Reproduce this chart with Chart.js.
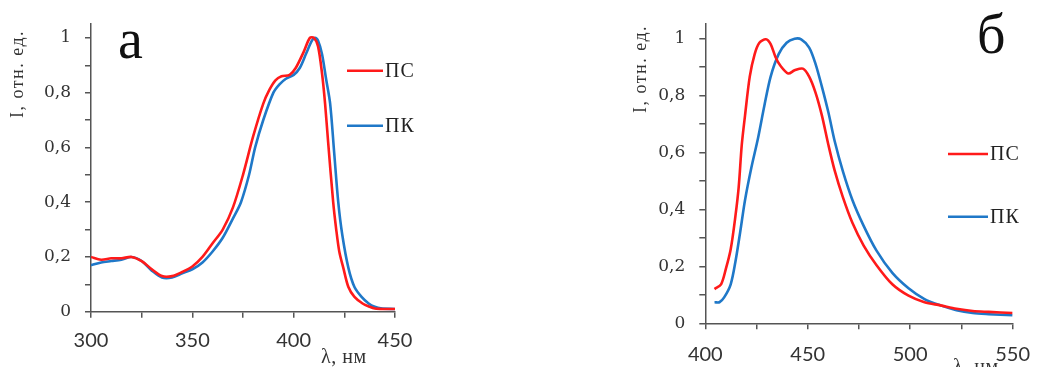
<!DOCTYPE html>
<html>
<head>
<meta charset="utf-8">
<script src="https://cdn.jsdelivr.net/npm/chart.js@4.4.1/dist/chart.umd.min.js"></script>
<style>
  body { margin: 0; background: #fff; }
  #wrap { position: relative; width: 1043px; height: 367px; overflow: hidden; }
  canvas { position: absolute; top: 0; }
</style>
</head>
<body>
<div id="wrap">
  <canvas id="chartA" width="430" height="367" style="left:0"></canvas>
  <canvas id="chartB" width="443" height="367" style="left:600px"></canvas>
</div>
<script>
// panel а: absorption
const absWlPS = [300, 305, 310, 315, 320, 325, 330, 335, 340, 345, 350, 355, 360, 365, 370, 375, 380, 385, 388, 391, 394, 398, 401, 405, 408, 410, 412, 414, 415.5, 417, 419.5, 421, 422.5, 424.5, 427, 430, 434, 437.5, 440, 445, 450];
const absPS   = [0.20, 0.19, 0.195, 0.195, 0.20, 0.185, 0.155, 0.13, 0.13, 0.145, 0.165, 0.20, 0.25, 0.30, 0.38, 0.50, 0.64, 0.76, 0.81, 0.845, 0.86, 0.865, 0.89, 0.95, 1.0, 1.0, 0.97, 0.87, 0.76, 0.62, 0.40, 0.30, 0.22, 0.16, 0.09, 0.054, 0.03, 0.018, 0.012, 0.01, 0.01];
const absWlPK = [300, 305, 310, 315, 320, 325, 330, 335, 340, 345, 350, 355, 360, 365, 370, 374, 378, 381, 385, 390, 393, 396, 400, 403, 406, 409, 410.5, 412, 414, 416, 418, 420, 422, 424, 427, 430, 433.5, 437, 440, 443, 450];
const absPK   = [0.17, 0.18, 0.185, 0.19, 0.20, 0.185, 0.15, 0.125, 0.125, 0.14, 0.155, 0.18, 0.22, 0.27, 0.34, 0.40, 0.50, 0.60, 0.70, 0.80, 0.83, 0.85, 0.865, 0.89, 0.94, 0.99, 1.0, 0.99, 0.94, 0.85, 0.76, 0.58, 0.40, 0.28, 0.16, 0.09, 0.054, 0.03, 0.018, 0.012, 0.01];

// panel б: emission
const emWlPS = [404.5, 407.7, 410, 412.4, 414.7, 416.3, 417.8, 419.4, 421.7, 424.1, 426.4, 429.6, 431.9, 434.3, 436.6, 440.5, 443.6, 447.6, 450.7, 453.8, 456.9, 460.1, 463.2, 467.1, 471.8, 477.3, 483.5, 491.3, 499.2, 507, 514.8, 522.6, 530.5, 538.3, 550];
const emPS   = [0.12, 0.137, 0.19, 0.26, 0.376, 0.478, 0.626, 0.73, 0.866, 0.945, 0.985, 0.997, 0.98, 0.934, 0.905, 0.877, 0.888, 0.894, 0.866, 0.81, 0.73, 0.626, 0.535, 0.444, 0.353, 0.273, 0.205, 0.137, 0.097, 0.074, 0.063, 0.051, 0.043, 0.04, 0.036];
const emWlPK = [404.5, 406.9, 409.2, 412.4, 414.7, 417, 419.4, 422.5, 425.7, 428.8, 431.9, 435.8, 439.7, 443.6, 446.8, 450.7, 453.8, 456.9, 460.1, 463.2, 467.1, 471.8, 477.3, 483.5, 491.3, 499.2, 507, 514.8, 522.6, 530.5, 538.3, 550];
const emPK   = [0.074, 0.074, 0.091, 0.137, 0.216, 0.319, 0.433, 0.547, 0.649, 0.763, 0.866, 0.945, 0.985, 0.999, 0.997, 0.968, 0.911, 0.831, 0.74, 0.638, 0.535, 0.433, 0.342, 0.256, 0.177, 0.123, 0.085, 0.063, 0.046, 0.036, 0.032, 0.028];

const seriesNames = ['ПС', 'ПК'];
const seriesColors = ['#ff1a1a', '#1f78c8'];
const axisColor = '#555555';
const textColor = '#333333';

function pts(xs, ys) { return xs.map((x, i) => ({ x: x, y: ys[i] })); }

function yLabel(v) {
  const k = Math.round(v * 10);
  if (k % 2 !== 0) return '';
  if (k === 0) return '0';
  if (k === 10) return '1';
  return (k / 10).toFixed(1).replace('.', ',');
}

// text overlay: panel letter, axis titles, legend
const overlay = {
  id: 'overlay',
  afterDraw(chart, args, o) {
    const ctx = chart.ctx;
    ctx.save();
    ctx.fillStyle = '#111';
    ctx.font = '56px "Liberation Serif"';
    ctx.textBaseline = 'alphabetic';
    ctx.fillText(o.letter, o.letterX, o.letterY);

    ctx.fillStyle = textColor;
    ctx.font = '18px "Liberation Serif"';
    ctx.letterSpacing = '1.5px';
    ctx.save();
    ctx.translate(o.yTitleX, o.yTitleY);
    ctx.rotate(-Math.PI / 2);
    ctx.textAlign = 'center';
    ctx.textBaseline = 'middle';
    ctx.fillText('I, отн. ед.', 0, 0);
    ctx.restore();
    ctx.font = '20px "Liberation Serif"';
    ctx.letterSpacing = '0.5px';
    ctx.textAlign = 'left';
    ctx.textBaseline = 'alphabetic';
    ctx.fillText('λ, нм', o.xTitleX, o.xTitleY);

    ctx.font = '20px "Liberation Serif"';
    ctx.letterSpacing = '1px';
    ctx.textBaseline = 'middle';
    o.legendY.forEach((y, i) => {
      ctx.strokeStyle = seriesColors[i];
      ctx.lineWidth = 2.5;
      ctx.beginPath();
      ctx.moveTo(o.legendX, y);
      ctx.lineTo(o.legendX + o.legendLen, y);
      ctx.stroke();
      ctx.fillStyle = '#222';
      ctx.fillText(seriesNames[i], o.legendX + o.legendLen + 2, y + 1);
    });
    ctx.restore();
  }
};

function makeChart(id, dataSets, xMin, xMax, area, ov) {
  return new Chart(document.getElementById(id), {
    type: 'line',
    data: {
      datasets: dataSets.map((d, i) => ({
        label: seriesNames[i],
        data: d,
        borderColor: seriesColors[i],
        borderWidth: 2.6,
        pointRadius: 0,
        tension: 0.3,
        fill: false
      }))
    },
    options: {
      responsive: false,
      animation: false,
      devicePixelRatio: 1,
      layout: { autoPadding: false, padding: { left: 0, top: area.top, right: area.right, bottom: 0 } },
      plugins: { legend: { display: false }, tooltip: { enabled: false }, overlay: ov },
      scales: {
        x: {
          type: 'linear', min: xMin, max: xMax,
          afterFit(s) { s.height = area.xh; },
          border: { color: axisColor, width: 1.5 },
          grid: { drawOnChartArea: false, drawTicks: true, tickLength: 6, color: axisColor, lineWidth: 1.5 },
          ticks: {
            stepSize: 25, includeBounds: false, autoSkip: false, maxRotation: 0,
            padding: area.xpad, color: textColor,
            font: { family: 'Lato', size: 20 },
            callback: v => (v % 50 === 0 ? String(v) : '')
          }
        },
        y: {
          min: 0, max: 1.05,
          afterFit(s) { s.width = area.yw; },
          border: { color: axisColor, width: 1.5 },
          grid: { drawOnChartArea: false, drawTicks: true, tickLength: 6, color: axisColor, lineWidth: 1.5 },
          ticks: {
            stepSize: 0.1, includeBounds: false, autoSkip: false,
            padding: 14, color: textColor,
            font: { family: 'DejaVu Serif', size: 17 },
            callback: yLabel
          }
        }
      }
    },
    plugins: [overlay]
  });
}

makeChart('chartA', [pts(absWlPS, absPS), pts(absWlPK, absPK)], 300, 450,
  { top: 20.8, right: 35, xh: 55.3, yw: 91, xpad: 11 },
  { letter: 'а', letterX: 118, letterY: 58, yTitleX: 18, yTitleY: 74, xTitleX: 321, xTitleY: 363,
    legendX: 347, legendLen: 36, legendY: [70.7, 125.7] });

makeChart('chartB', [pts(emWlPS, emPS), pts(emWlPK, emPK)], 400, 550,
  { top: 16, right: 18, xh: 43.7, yw: 105.3, xpad: 13 },
  { letter: 'б', letterX: 377, letterY: 53, yTitleX: 41, yTitleY: 69, xTitleX: 353, xTitleY: 373,
    legendX: 348, legendLen: 40, legendY: [154, 216.7] });
</script>
</body>
</html>
